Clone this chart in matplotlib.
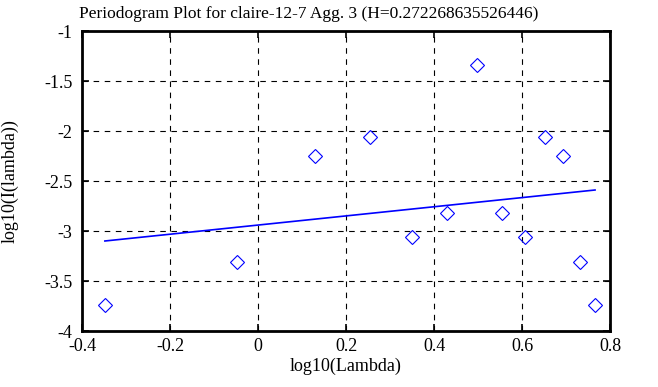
import matplotlib
matplotlib.use('Agg')
import matplotlib.pyplot as plt

plt.rcParams['font.family'] = ['Liberation Serif', 'DejaVu Serif']

# periodogram points
log_lambda = [-0.348, -0.047, 0.129, 0.254, 0.351, 0.430, 0.497,
              0.555, 0.606, 0.652, 0.693, 0.731, 0.766]
log_I = [-3.74, -3.31, -2.25, -2.06, -3.06, -2.82, -1.34,
         -2.82, -3.06, -2.06, -2.25, -3.31, -3.74]

# fitted line endpoints
fit_x = [-0.348, 0.766]
fit_y = [-3.10, -2.59]

title = 'Periodogram Plot for claire-12-7 Agg. 3 (H=0.272268635526446)'

fig = plt.figure(figsize=(6.58, 3.87), dpi=100)
ax = fig.add_axes([82 / 658, 56 / 387, 528 / 658, 300 / 387])

ax.plot(log_lambda, log_I, linestyle='none', marker='D', markersize=7,
        markerfacecolor='none', markeredgecolor='blue', markeredgewidth=0.8)
ax.plot(fit_x, fit_y, color='blue', linewidth=1.2)

ax.set_xlim(-0.4, 0.8)
ax.set_ylim(-4, -1)
ax.set_xticks([-0.4, -0.2, 0, 0.2, 0.4, 0.6, 0.8])
ax.set_xticklabels(['-0.4', '-0.2', '0', '0.2', '0.4', '0.6', '0.8'])
ax.set_yticks([-4, -3.5, -3, -2.5, -2, -1.5, -1])
ax.set_yticklabels(['-4', '-3.5', '-3', '-2.5', '-2', '-1.5', '-1'])

ax.grid(True, color='black', linestyle=(0, (5, 5)), linewidth=0.8)
ax.tick_params(direction='in', top=True, right=True, length=5, width=1.2,
               labelsize=13, pad=7)
ax.tick_params(axis='x', pad=5)
for s in ax.spines.values():
    s.set_linewidth(2)

ax.set_xlabel('log10(Lambda)', fontsize=13, labelpad=2)
ax.set_ylabel('log10(I(lambda))', fontsize=13)
ax.yaxis.set_label_coords(-63 / 528, 0.5)
fig.text(309 / 658, 1 - 14 / 387, title, fontsize=12.5, ha='center', va='center')

fig.savefig('out.png', dpi=100)
